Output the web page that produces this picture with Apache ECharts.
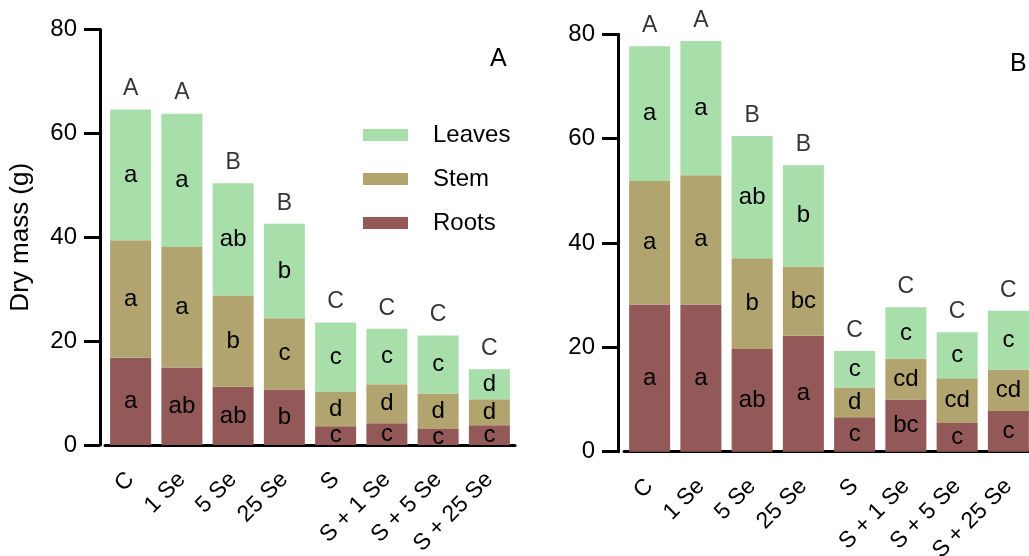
<!DOCTYPE html>
<html>
<head>
    <meta charset="utf-8">
    <title>Dry mass</title>
    <script src="https://cdn.jsdelivr.net/npm/echarts@6/dist/echarts.min.js"></script>
</head>
<body style="margin:0">
<div id="main" style="width: 1029px;height:556px;"></div>
<script type="text/javascript">
var categories = ['C', '1 Se', '5 Se', '25 Se', 'S', 'S + 1 Se', 'S + 5 Se', 'S + 25 Se'];

// panel A
var rootsA = [16.8, 14.9, 11.2, 10.7, 3.6, 4.2, 3.1, 3.8];
var stemA = [22.6, 23.2, 17.6, 13.7, 6.7, 7.5, 6.8, 5.0];
var leavesA = [25.2, 25.7, 21.6, 18.2, 13.3, 10.7, 11.2, 5.8];
var rootsLetA = ['a', 'ab', 'ab', 'b', 'c', 'c', 'c', 'c'];
var stemLetA = ['a', 'a', 'b', 'c', 'd', 'd', 'd', 'd'];
var leavesLetA = ['a', 'a', 'ab', 'b', 'c', 'c', 'c', 'd'];
var totalLetA = ['A', 'A', 'B', 'B', 'C', 'C', 'C', 'C'];

// panel B
var rootsB = [28.2, 28.2, 19.7, 22.2, 6.6, 10.0, 5.5, 7.8];
var stemB = [23.7, 24.8, 17.4, 13.3, 5.7, 7.8, 8.6, 7.9];
var leavesB = [25.8, 25.7, 23.4, 19.4, 7.0, 9.9, 8.8, 11.3];
var rootsLetB = ['a', 'a', 'ab', 'a', 'c', 'bc', 'c', 'c'];
var stemLetB = ['a', 'a', 'b', 'bc', 'd', 'cd', 'cd', 'cd'];
var leavesLetB = ['a', 'a', 'ab', 'b', 'c', 'c', 'c', 'c'];
var totalLetB = ['A', 'A', 'B', 'B', 'C', 'C', 'C', 'C'];

var yTicks = [0, 20, 40, 60, 80];

var colors = {Leaves: '#a8dea9', Stem: '#b1a46e', Roots: '#935858'};
var font = 'Liberation Sans, Arial, sans-serif';

function totals(r, s, l) {
    return r.map(function (v, i) { return +(v + s[i] + l[i]).toFixed(1); });
}

function barSeries(name, data, letters, idx) {
    return {
        name: name,
        type: 'bar',
        stack: 'p' + idx,
        xAxisIndex: idx,
        yAxisIndex: idx,
        barWidth: 41,
        data: data,
        itemStyle: {color: colors[name]},
        label: {
            show: true,
            position: 'inside',
            color: '#000',
            fontSize: 24,
            fontFamily: font,
            formatter: function (p) { return letters[p.dataIndex]; }
        }
    };
}

function topSeries(data, letters, idx) {
    return {
        name: 'top' + idx,
        type: 'scatter',
        xAxisIndex: idx,
        yAxisIndex: idx,
        symbolSize: 0,
        silent: true,
        data: data,
        label: {
            show: true,
            position: 'top',
            distance: 9,
            color: '#000',
            fontSize: 23,
            fontFamily: font,
            formatter: function (p) { return letters[p.dataIndex]; }
        }
    };
}

function xAx(idx) {
    return {
        type: 'category',
        gridIndex: idx,
        data: categories,
        axisLine: {lineStyle: {color: '#000', width: 3}},
        axisTick: {alignWithLabel: true, length: 18, lineStyle: {color: '#000', width: 3}},
        axisLabel: {rotate: 45, margin: 31, fontSize: 23, color: '#000', fontFamily: font, interval: 0}
    };
}

function yAx(idx, off) {
    return {
        type: 'value',
        gridIndex: idx,
        min: yTicks[0],
        max: yTicks[yTicks.length - 1],
        interval: 20,
        offset: off,
        splitLine: {show: false},
        axisLine: {show: true, lineStyle: {color: '#000', width: 3}},
        axisTick: {show: true, length: 16, lineStyle: {color: '#000', width: 3}},
        axisLabel: {margin: 23, fontSize: 24, color: '#000', fontFamily: font}
    };
}

var chart = echarts.init(document.getElementById('main'));
var yA = yAx(0, 5);
yA.name = 'Dry mass (g)';
yA.nameLocation = 'middle';
yA.nameGap = 66;
yA.nameTextStyle = {fontSize: 26, color: '#000', fontFamily: font};

chart.setOption({
    backgroundColor: '#fff',
    animation: false,
    title: [
        {text: 'A', left: 485, top: 42, textStyle: {fontSize: 25, fontWeight: 'normal', color: '#000', fontFamily: font}},
        {text: 'B', left: 1005, top: 47, textStyle: {fontSize: 25, fontWeight: 'normal', color: '#000', fontFamily: font}}
    ],
    legend: {
        data: ['Leaves', 'Stem', 'Roots'],
        orient: 'vertical',
        left: 358,
        top: 118,
        itemWidth: 45,
        itemHeight: 12,
        itemGap: 20,
        icon: 'rect',
        selectedMode: false,
        textStyle: {fontSize: 24, color: '#000', fontFamily: font, padding: [0, 0, 0, 20]}
    },
    grid: [
        {left: 105, top: 29.5, width: 410, height: 415.5, outerBoundsMode: 'none'},
        {left: 624, top: 34.3, width: 410, height: 417.4, outerBoundsMode: 'none'}
    ],
    xAxis: [xAx(0), xAx(1)],
    yAxis: [yA, yAx(1, 6)],
    series: [
        barSeries('Roots', rootsA, rootsLetA, 0),
        barSeries('Stem', stemA, stemLetA, 0),
        barSeries('Leaves', leavesA, leavesLetA, 0),
        topSeries(totals(rootsA, stemA, leavesA), totalLetA, 0),
        barSeries('Roots', rootsB, rootsLetB, 1),
        barSeries('Stem', stemB, stemLetB, 1),
        barSeries('Leaves', leavesB, leavesLetB, 1),
        topSeries(totals(rootsB, stemB, leavesB), totalLetB, 1)
    ]
});
</script>
</body>
</html>
